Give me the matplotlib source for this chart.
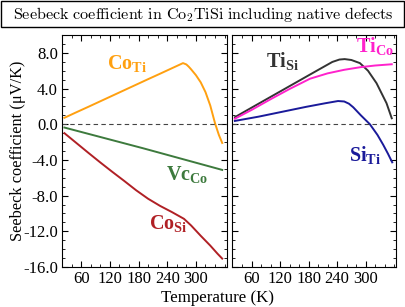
import matplotlib
matplotlib.use("Agg")
import matplotlib.pyplot as plt
from matplotlib.patches import Rectangle
from matplotlib.ticker import MultipleLocator, FormatStrFormatter

plt.rcParams['font.family'] = ['Liberation Serif', 'DejaVu Serif']
plt.rcParams['mathtext.fontset'] = 'custom'
plt.rcParams['mathtext.rm'] = 'Liberation Serif'
plt.rcParams['mathtext.bf'] = 'Liberation Serif:bold'
plt.rcParams['axes.unicode_minus'] = False

# ---- data (left panel) ----
t_coti = [25, 50, 75, 100, 125, 150, 175, 200, 225, 250, 265, 273, 280, 285, 290, 300, 310, 320, 330, 340, 348, 355]
s_coti = [0.72, 1.34, 1.95, 2.57, 3.19, 3.81, 4.43, 5.05, 5.66, 6.28, 6.65, 6.85, 6.7, 6.45, 6.15, 5.5, 4.7, 3.6, 2.1, 0.1, -1.2, -2.1]

t_vcco = [25, 190, 355]
s_vcco = [-0.37, -2.7, -5.12]

t_cosi = [25, 50, 75, 100, 125, 150, 175, 200, 225, 250, 275, 290, 310, 330, 345, 355]
s_cosi = [-1.0, -2.1, -3.2, -4.28, -5.33, -6.35, -7.4, -8.35, -9.15, -9.85, -10.6, -11.35, -12.5, -13.6, -14.5, -15.06]

# ---- data (right panel) ----
t_tisi = [25, 50, 100, 150, 200, 230, 245, 256, 270, 288, 305, 323, 344, 355]
s_tisi = [0.79, 1.55, 3.06, 4.57, 6.08, 6.98, 7.25, 7.3, 7.2, 6.85, 6.0, 4.6, 2.36, 0.67]

t_tico = [25, 60, 100, 140, 183, 220, 255, 290, 320, 355]
s_tico = [0.62, 1.6, 2.8, 3.95, 5.1, 5.7, 6.1, 6.4, 6.58, 6.72]

t_siti = [25, 75, 125, 175, 215, 242, 255, 265, 274, 290, 309, 325, 337, 347, 356]
s_siti = [0.37, 0.85, 1.4, 1.95, 2.35, 2.6, 2.55, 2.3, 1.9, 1.0, 0.0, -1.2, -2.3, -3.3, -4.27]

xticks = [60, 120, 180, 240, 300]

W, H = 406, 307
fig = plt.figure(figsize=(W / 100, H / 100), dpi=100)

def fx(px):
    return px / W

def fy(py):
    return 1 - py / H

ax1 = fig.add_axes([fx(62), fy(267), fx(165), (267 - 35) / H])
ax2 = fig.add_axes([fx(232.5), fy(267), fx(164), (267 - 35) / H])

lw = 1.4
ax1.plot(t_coti, s_coti, color='#ffa010', lw=lw)
ax1.plot(t_vcco, s_vcco, color='#3d7a3d', lw=lw)
ax1.plot(t_cosi, s_cosi, color='#b02025', lw=lw)

ax2.plot(t_tisi, s_tisi, color='#333333', lw=lw)
ax2.plot(t_tico, s_tico, color='#ff22cc', lw=lw)
ax2.plot(t_siti, s_siti, color='#1a1a9a', lw=lw)

for ax in (ax1, ax2):
    ax.axhline(0, color='#444444', lw=0.8, ls=(0, (4, 3)))
    ax.set_xlim(20, 365)
    ax.set_ylim(-16, 10)
    ax.set_xticks(xticks)
    ax.xaxis.set_minor_locator(MultipleLocator(20))
    ax.set_yticks([-16, -12, -8, -4, 0, 4, 8])
    ax.yaxis.set_minor_locator(MultipleLocator(1))
    ax.yaxis.set_major_formatter(FormatStrFormatter('%.1f'))
    ax.tick_params(which='both', direction='in', top=True, right=True, labelsize=12, pad=3)
    ax.tick_params(which='major', length=4, width=0.8)
    ax.tick_params(which='minor', length=2, width=0.6)
    for sp in ax.spines.values():
        sp.set_linewidth(0.8)

ax2.tick_params(labelleft=False)

fig.text(fx(18), fy(151), 'Seebeck coefficient (μV/K)', fontsize=11.8, rotation=90,
         ha='center', va='center')
fig.text(fx(217.5), fy(298), 'Temperature (K)', fontsize=12.2, ha='center', va='center')

lab = dict(fontsize=14.5, ha='left', va='baseline')
fig.text(fx(107), fy(70), r'$\mathbf{Co}_{\mathbf{Ti}}$', color='#ffa010', **lab)
fig.text(fx(166), fy(181), r'$\mathbf{Vc}_{\mathbf{Co}}$', color='#3d7a3d', **lab)
fig.text(fx(149), fy(230), r'$\mathbf{Co}_{\mathbf{Si}}$', color='#b02025', **lab)
fig.text(fx(266), fy(68), r'$\mathbf{Ti}_{\mathbf{Si}}$', color='#333333', **lab)
fig.text(fx(356), fy(53), r'$\mathbf{Ti}_{\mathbf{Co}}$', color='#ff22cc', **lab)
fig.text(fx(349), fy(162), r'$\mathbf{Si}_{\mathbf{Ti}}$', color='#1a1a9a', **lab)

# title box
fig.patches.append(Rectangle((fx(1), fy(26.5)), fx(403.5), 25.5 / H, transform=fig.transFigure,
                             fill=False, edgecolor='black', lw=1.0))
fig.text(0.5, fy(14), r'$\mathrm{Seebeck\ coefficient\ in\ Co_2TiSi\ including\ native\ defects}$',
         ha='center', va='center', fontsize=11.6, math_fontfamily='cm')

fig.savefig('out.png', dpi=100)
